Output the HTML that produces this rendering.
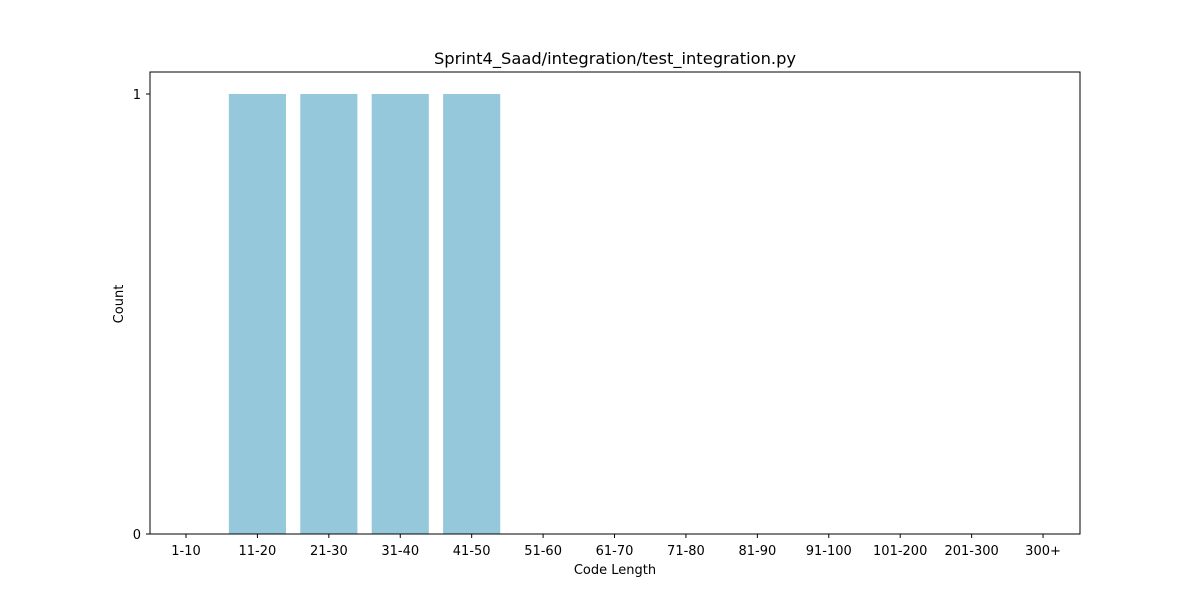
<!DOCTYPE html>
<html><head><meta charset="utf-8"><style>
html,body{margin:0;padding:0;background:#fff;}
svg text{font-family:"DejaVu Sans","Liberation Sans",sans-serif;fill:#000;}
</style></head><body>
<svg id="chart" width="1200" height="600" viewBox="0 0 1200 600" xmlns="http://www.w3.org/2000/svg">
<rect x="0" y="0" width="1200" height="600" fill="#fff"/>
<g id="bars"></g>
<g id="xticks"></g>
<g id="yticks"></g>
<rect x="150" y="72" width="930" height="462" fill="none" stroke="#000" stroke-width="1"/>
<text x="615" y="64" font-size="16.3" text-anchor="middle">Sprint4_Saad/integration/test_integration.py</text>
<text x="615" y="574" font-size="13" text-anchor="middle">Code Length</text>
<text x="123" y="304" font-size="13" text-anchor="middle" transform="rotate(-90 123 304)">Count</text>
</svg>
<script>
const categories = ["1-10","11-20","21-30","31-40","41-50","51-60","61-70","71-80","81-90","91-100","101-200","201-300","300+"];
const counts = [0,1,1,1,1,0,0,0,0,0,0,0,0];
const yTickValues = [0,1];
const NS="http://www.w3.org/2000/svg";
const x0=186, step=71.42, bw=0.8*step;
function xs(i){return x0+i*step;}
function ys(v){return 534-v*440;}
const bars=document.getElementById('bars');
const xt=document.getElementById('xticks');
const yt=document.getElementById('yticks');
categories.forEach((c,i)=>{
  const v=counts[i];
  if(v>0){
    const r=document.createElementNS(NS,'rect');
    r.setAttribute('x',xs(i)-bw/2);r.setAttribute('y',ys(v));
    r.setAttribute('width',bw);r.setAttribute('height',ys(0)-ys(v));
    r.setAttribute('fill','#96c8dc');
    
    
    bars.appendChild(r);
  }
  const l=document.createElementNS(NS,'line');
  l.setAttribute('x1',xs(i));l.setAttribute('x2',xs(i));l.setAttribute('y1',534);l.setAttribute('y2',538);
  l.setAttribute('stroke','#000');
  xt.appendChild(l);
  const t=document.createElementNS(NS,'text');
  t.setAttribute('x',xs(i));t.setAttribute('y',555);t.setAttribute('font-size','13');t.setAttribute('text-anchor','middle');
  t.textContent=c;
  
  
  xt.appendChild(t);
});
yTickValues.forEach(v=>{
  const l=document.createElementNS(NS,'line');
  l.setAttribute('x1',146);l.setAttribute('x2',150);l.setAttribute('y1',ys(v));l.setAttribute('y2',ys(v));
  l.setAttribute('stroke','#000');
  yt.appendChild(l);
  const t=document.createElementNS(NS,'text');
  t.setAttribute('x',141);t.setAttribute('y',ys(v)+5);t.setAttribute('font-size','13');t.setAttribute('text-anchor','end');
  t.textContent=String(v);
  
  
  yt.appendChild(t);
});
</script>
</body></html>
